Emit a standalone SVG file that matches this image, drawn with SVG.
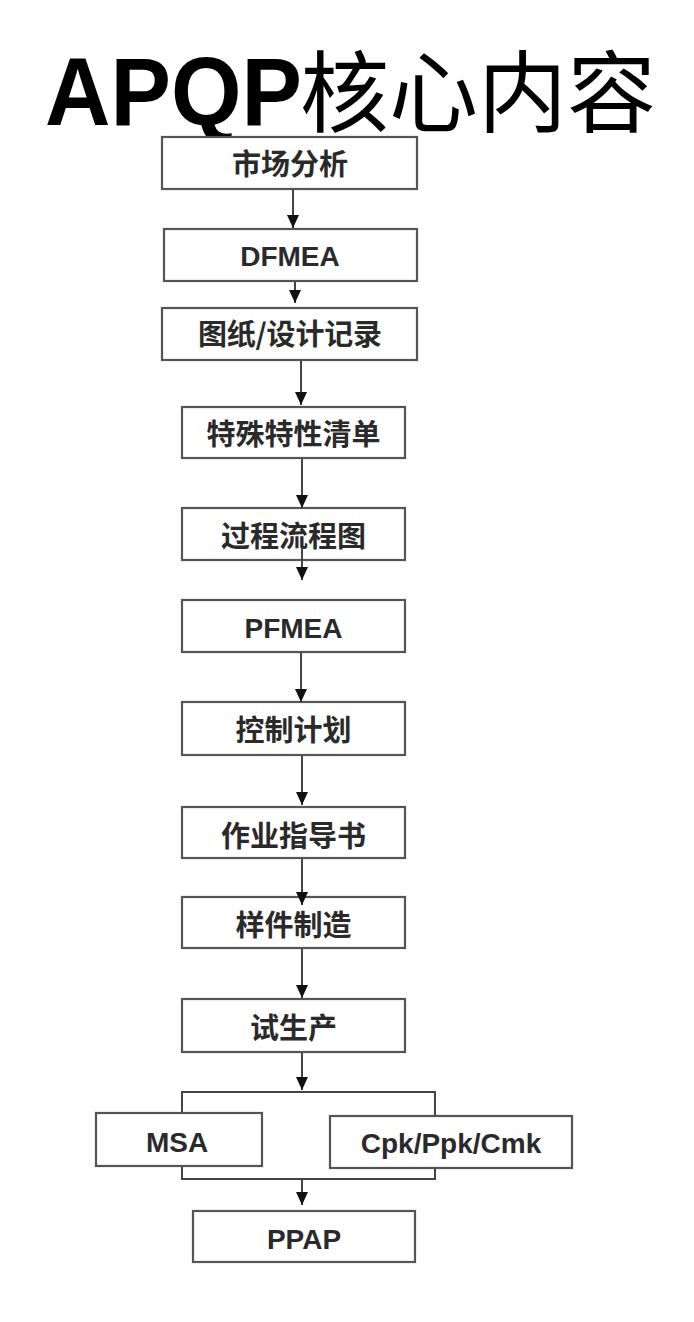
<svg xmlns="http://www.w3.org/2000/svg" width="694" height="1322" viewBox="0 0 694 1322">
<defs>
<marker id="ah" viewBox="0 0 13 12" refX="13" refY="6" markerWidth="13" markerHeight="12" markerUnits="userSpaceOnUse" orient="auto">
<path d="M0,0 L13,6 L0,12 Z" fill="#111"/>
</marker>
<style>
.box{fill:#fff;stroke:#555;stroke-width:2.2}
.cn{font-family:"Noto Sans CJK SC","Liberation Sans",sans-serif;font-size:29px;font-weight:bold;fill:#2a2a2a;text-anchor:middle}
.en{font-family:"Liberation Sans",Arial,sans-serif;font-size:28px;font-weight:bold;fill:#2a2a2a;text-anchor:middle}
.ln{fill:none;stroke:#444;stroke-width:2}
</style>
</defs>
<rect width="694" height="1322" fill="#fff"/>
<g id="title">
<text x="45" y="125" fill="#000"><tspan font-family="Liberation Sans, Arial, sans-serif" font-weight="bold" font-size="96" textLength="257" lengthAdjust="spacingAndGlyphs">APQP</tspan><tspan x="300" font-family="Noto Sans CJK SC, sans-serif" font-weight="normal" font-size="89">核心内容</tspan></text>
</g>
<g id="n1"><rect class="box" x="162" y="137" width="255" height="52"/><text class="cn" x="290" y="175">市场分析</text></g>
<g id="n2"><rect class="box" x="164" y="229" width="253" height="52"/><text class="en" x="290" y="266">DFMEA</text></g>
<g id="n3"><rect class="box" x="162" y="308" width="255" height="52"/><text class="cn" x="290" y="345" textLength="184" lengthAdjust="spacing">图纸/设计记录</text></g>
<g id="n4"><rect class="box" x="182" y="407" width="223" height="51"/><text class="cn" x="293.5" y="445">特殊特性清单</text></g>
<g id="n5"><rect class="box" x="182" y="508" width="223" height="52"/><text class="cn" x="293.5" y="547">过程流程图</text></g>
<g id="n6"><rect class="box" x="182" y="600" width="223" height="52"/><text class="en" x="293.5" y="638">PFMEA</text></g>
<g id="n7"><rect class="box" x="182" y="702" width="223" height="53"/><text class="cn" x="293.5" y="741">控制计划</text></g>
<g id="n8"><rect class="box" x="182" y="807" width="223" height="51"/><text class="cn" x="293.5" y="847">作业指导书</text></g>
<g id="n9"><rect class="box" x="182" y="897" width="223" height="51"/><text class="cn" x="293.5" y="936">样件制造</text></g>
<g id="n10"><rect class="box" x="182" y="999" width="223" height="53"/><text class="cn" x="293.5" y="1039">试生产</text></g>
<g id="n11"><rect class="box" x="96" y="1113" width="166" height="53"/><text class="en" x="177" y="1152">MSA</text></g>
<g id="n12"><rect class="box" x="330" y="1116" width="242" height="52"/><text class="en" x="451" y="1153">Cpk/Ppk/Cmk</text></g>
<g id="n13"><rect class="box" x="193" y="1211" width="222" height="51"/><text class="en" x="304" y="1249">PPAP</text></g>
<g id="connectors">
<path class="ln" d="M293,190 V228" marker-end="url(#ah)"/>
<path class="ln" d="M295,282 V303" marker-end="url(#ah)"/>
<path class="ln" d="M301,361 V405" marker-end="url(#ah)"/>
<path class="ln" d="M302,459 V508" marker-end="url(#ah)"/>
<path class="ln" d="M302,548 V580" marker-end="url(#ah)"/>
<path class="ln" d="M301,653 V702" marker-end="url(#ah)"/>
<path class="ln" d="M302,756 V805" marker-end="url(#ah)"/>
<path class="ln" d="M302,859 V905" marker-end="url(#ah)"/>
<path class="ln" d="M302,949 V998" marker-end="url(#ah)"/>
<path class="ln" d="M302,1053 V1090" marker-end="url(#ah)"/>
<path class="ln" d="M182,1112 V1092 H435 V1115"/>
<path class="ln" d="M182,1167 V1179 H435 V1169"/>
<path class="ln" d="M302,1179 V1205" marker-end="url(#ah)"/>
</g>
</svg>
